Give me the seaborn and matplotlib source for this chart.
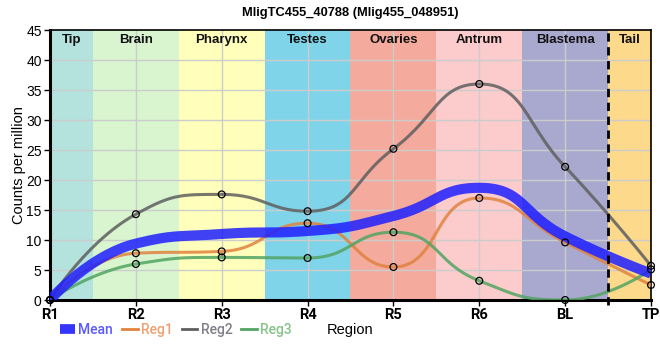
import matplotlib
matplotlib.use('Agg')
import matplotlib.pyplot as plt
from matplotlib.lines import Line2D
import seaborn as sns
import pandas as pd
import numpy as np

# data
regions = ['R1', 'R2', 'R3', 'R4', 'R5', 'R6', 'BL', 'TP']
reg1 = [0, 7.8, 8.1, 12.8, 5.5, 17.0, 9.6, 2.5]
reg2 = [0, 14.3, 17.6, 14.8, 25.2, 36.0, 22.2, 5.7]
reg3 = [0, 6.0, 7.1, 7.0, 11.3, 3.2, 0, 5.1]
mean = [0, 9.4, 11.0, 11.5, 14.0, 18.7, 10.6, 4.4]

band_names = ['Tip', 'Brain', 'Pharynx', 'Testes', 'Ovaries', 'Antrum', 'Blastema', 'Tail']
band_colors = ['#b4e3de', '#d8f5cf', '#ffffbb', '#7fd4ea', '#f4aa9c', '#fccccc', '#a9a8cf', '#fdd98c']
band_edges = [0, 0.5, 1.5, 2.5, 3.5, 4.5, 5.5, 6.5, 7]

series_colors = {'Mean': '#1f1fff', 'Reg1': '#e0833f', 'Reg2': '#5f5f5f', 'Reg3': '#52a462'}
text_colors = {'Mean': '#5a5aff', 'Reg1': '#eea070', 'Reg2': '#7f7f8a', 'Reg3': '#85c48a'}


# bezier smoothing with per-segment constraint (how the source chart draws its lines),
# worked out in pixel units so the segment lengths weigh the same way
def smooth_line(vals, smooth=0.5, sx=86.0, sy=6.0, n=30):
    X = np.arange(len(vals)) * sx
    Y = np.asarray(vals, dtype=float) * sy
    t = np.linspace(0, 1, n)
    xs, ys = [], []
    cx0, cy0 = X[0], Y[0]
    for i in range(1, len(X)):
        px, py, x, y = X[i - 1], Y[i - 1], X[i], Y[i]
        if i == len(X) - 1:
            cx1, cy1 = x, y
            ncx, ncy = x, y
        else:
            nx, ny = X[i + 1], Y[i + 1]
            vx, vy = nx - px, ny - py
            lp = np.hypot(x - px, y - py)
            ln = np.hypot(nx - x, ny - y)
            r = ln / (ln + lp)
            ncx = x + vx * smooth * r
            ncy = y + vy * smooth * r
            ncx = max(min(ncx, max(nx, x)), min(nx, x))
            ncy = max(min(ncy, max(ny, y)), min(ny, y))
            vx, vy = ncx - x, ncy - y
            cx1 = x - vx * lp / ln
            cy1 = y - vy * lp / ln
            cx1 = max(min(cx1, max(px, x)), min(px, x))
            cy1 = max(min(cy1, max(py, y)), min(py, y))
            vx, vy = x - cx1, y - cy1
            ncx = x + vx * ln / lp
            ncy = y + vy * ln / lp
        b0, b1, b2, b3 = (1 - t) ** 3, 3 * (1 - t) ** 2 * t, 3 * (1 - t) * t ** 2, t ** 3
        xs.append(b0 * px + b1 * cx0 + b2 * cx1 + b3 * x)
        ys.append(b0 * py + b1 * cy0 + b2 * cy1 + b3 * y)
        cx0, cy0 = ncx, ncy
    return np.concatenate(xs) / sx, np.concatenate(ys) / sy


fig = plt.figure(figsize=(6.6, 3.6), dpi=100)
ax = fig.add_axes([50 / 660, 60 / 360, 601 / 660, 270 / 360])

for i, name in enumerate(band_names):
    ax.axvspan(band_edges[i], band_edges[i + 1], color=band_colors[i], lw=0, zorder=0)
    ax.text((band_edges[i] + band_edges[i + 1]) / 2, 43.4, name, ha='center', va='center',
            fontsize=9.5, fontweight='bold', family='Liberation Sans', color='#111111')

for y in range(5, 45, 5):
    ax.axhline(y, color='#cccccc', lw=1, zorder=1)
for x in range(1, 7):
    ax.axvline(x, color='#cccccc', lw=1, zorder=1)

for name, vals in [('Reg1', reg1), ('Reg2', reg2), ('Reg3', reg3)]:
    sx, sy = smooth_line(vals)
    sns.lineplot(x=sx, y=sy, ax=ax, color=series_colors[name], lw=2.2, alpha=0.85,
                 sort=False, estimator=None, zorder=3)

mx, my = smooth_line(mean)
sns.lineplot(x=mx, y=my, ax=ax, color=series_colors['Mean'], lw=7.3, alpha=0.85,
             sort=False, estimator=None, zorder=4, solid_capstyle='butt')

pts = pd.DataFrame({
    'x': list(range(len(regions))) * 3,
    'y': reg1 + reg2 + reg3,
})
sns.scatterplot(data=pts, x='x', y='y', ax=ax, s=24, facecolor='none', edgecolor='black',
                linewidth=0.9, zorder=6, clip_on=False)

ax.plot([6.5, 6.5], [-0.9, 45], color='black', lw=2, ls=(0, (3, 2)), zorder=5, clip_on=False)

ax.set_xlim(0, 7)
ax.set_ylim(0, 45)
ax.set_xticks(range(len(regions)))
ax.set_xticklabels(regions, fontsize=10.5, fontweight='bold', family='Roboto')
ax.set_yticks(range(0, 46, 5))
ax.set_yticklabels([str(v) for v in range(0, 46, 5)], fontsize=10, family='Liberation Sans')
ax.tick_params(axis='both', length=4, width=1, pad=2, color='black')
for side in ['left', 'bottom']:
    ax.spines[side].set_linewidth(2.2)
for side in ['top', 'right']:
    ax.spines[side].set_linewidth(1.2)

ax.set_ylabel('Counts per million', fontsize=10.5, family='Liberation Sans', labelpad=0)
ax.set_xlabel('Region', fontsize=10.5, family='Liberation Sans')
ax.xaxis.set_label_coords(0.5, -0.085)
ax.set_title('MligTC455_40788 (Mlig455_048951)', fontsize=9.3, fontweight='bold',
             family='Liberation Sans', pad=10)

handles = [Line2D([], [], color=series_colors['Mean'], lw=7, alpha=0.9, solid_capstyle='butt'),
           Line2D([], [], color=series_colors['Reg1'], lw=2),
           Line2D([], [], color=series_colors['Reg2'], lw=2),
           Line2D([], [], color=series_colors['Reg3'], lw=2)]
labels = ['Mean', 'Reg1', 'Reg2', 'Reg3']
leg = fig.legend(handles, labels, loc='center left', bbox_to_anchor=(50 / 660, 30 / 360),
                 ncol=4, frameon=False, handlelength=1.1, handletextpad=0.25, columnspacing=0.65,
                 borderpad=0.2, prop={'family': 'Roboto', 'size': 10, 'weight': 'medium'})
for txt, lab in zip(leg.get_texts(), labels):
    txt.set_color(text_colors[lab])

fig.savefig('out.png', dpi=100)
